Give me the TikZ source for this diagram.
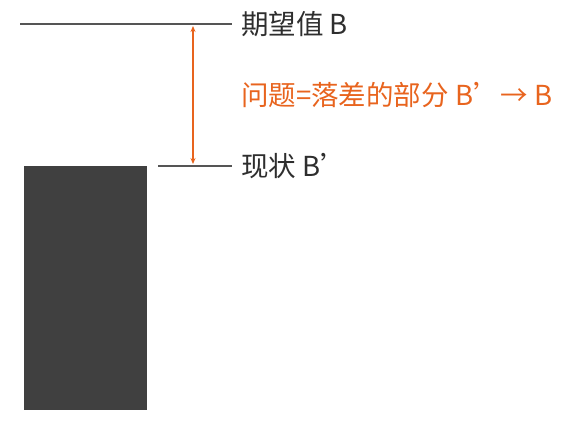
\documentclass[tikz,border=0pt]{standalone}
\usepackage{fontspec}
\usetikzlibrary{arrows.meta}
\newfontfamily\cjk{Noto Sans CJK SC}
\definecolor{orng}{HTML}{E8641E}
\definecolor{bar}{HTML}{404040}
\definecolor{ln}{HTML}{555555}
\definecolor{txt}{HTML}{2E2E2E}
\begin{document}
\begin{tikzpicture}[x=1pt,y=-1pt,
  lbl/.style={anchor=west,inner sep=0pt,font=\cjk\fontsize{27.5}{30}\selectfont,text=txt},
  lvl/.style={draw=ln,line width=1.4pt}]
\useasboundingbox (0,0) rectangle (569,428);
\fill[bar] (24,166) rectangle (147,410);
\coordinate (t1) at (20,24);
\coordinate (t2) at (232,24);
\coordinate (c1) at (158,166);
\coordinate (c2) at (232,166);
\draw[lvl] (t1) -- (t2);
\draw[lvl] (c1) -- (c2);
\node[lbl] (top) at (241,24) {期望值 B};
\node[lbl] (cur) at (241,166) {现状 B’};
\node[lbl,text=orng] (prob) at (241,95) {问题=落差的部分 B’→ B};
\coordinate (a1) at (193,26);
\coordinate (a2) at (193,164);
\draw[orng,line width=1.3pt,{Stealth[length=6pt,width=5pt]}-{Stealth[length=6pt,width=5pt]}] (a1) -- (a2);
\end{tikzpicture}
\end{document}
